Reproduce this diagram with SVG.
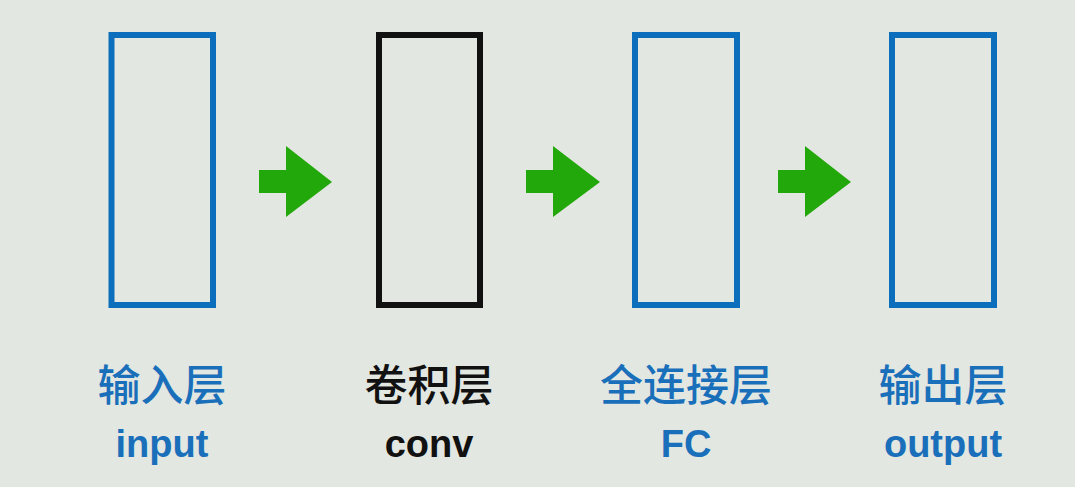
<svg xmlns="http://www.w3.org/2000/svg" width="1075" height="487" viewBox="0 0 1075 487">
<style>
.box{fill:none;stroke-width:6}
.blue{stroke:#0a6ebd}
.black{stroke:#111}
.cn{font-family:"Noto Sans CJK SC","Noto Sans",sans-serif;font-size:43px;font-weight:500;text-anchor:middle}
.en{font-family:"Liberation Sans",Arial,sans-serif;font-size:38px;font-weight:bold;text-anchor:middle}
.tb{fill:#1a6fba}
.tk{fill:#111}
.arrow{fill:#22a80a}
</style>
<rect width="1075" height="487" fill="#e3e7e1"/>
<g id="connectors">
<polygon class="arrow" points="259,170 286,170 286,146 332,182 286,217 286,193 259,193"/>
<polygon class="arrow" points="526,170 553,170 553,146 600,182 553,217 553,193 526,193"/>
<polygon class="arrow" points="778,170 805,170 805,146 851,182 805,217 805,193 778,193"/>
</g>
<g id="input">
<rect class="box blue" x="111.5" y="35" width="101.5" height="270"/>
<text class="cn tb" x="162" y="401">输入层</text>
<text class="en tb" x="162" y="457">input</text>
</g>
<g id="conv">
<rect class="box black" x="379" y="35" width="101" height="270"/>
<text class="cn tk" x="429" y="401">卷积层</text>
<text class="en tk" x="429" y="457">conv</text>
</g>
<g id="fc">
<rect class="box blue" x="635" y="35" width="102" height="270"/>
<text class="cn tb" x="686" y="401">全连接层</text>
<text class="en tb" x="686" y="457">FC</text>
</g>
<g id="output">
<rect class="box blue" x="892" y="35" width="102" height="270"/>
<text class="cn tb" x="943" y="401">输出层</text>
<text class="en tb" x="943" y="457">output</text>
</g>
</svg>
